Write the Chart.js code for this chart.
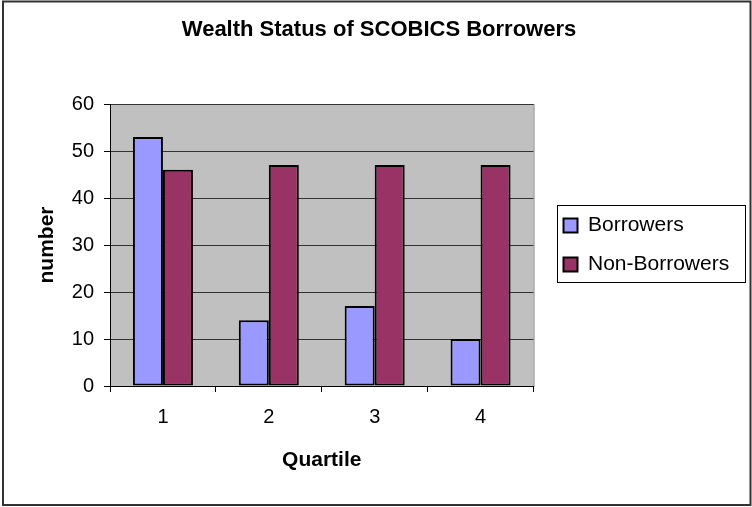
<!DOCTYPE html>
<html>
<head>
<meta charset="utf-8">
<script src="https://cdn.jsdelivr.net/npm/chart.js@4"></script>
<style>
  body { margin: 0; background: #fff; }
  canvas { display: block; }
</style>
</head>
<body>
<canvas id="chart" width="752" height="507"></canvas>
<script>
// data
const quartiles = ['1', '2', '3', '4'];
const borrowers = [53, 14, 17, 10];
const nonBorrowers = [46, 47, 47, 47];
const yTicks = [0, 10, 20, 30, 40, 50, 60];

const FONT = "'Liberation Sans', Arial, sans-serif";

// grey plot area + outer frame + legend frame
const excelLook = {
    id: 'excelLook',
    beforeDraw(chart) {
        const {ctx, chartArea: a} = chart;
        ctx.save();
        ctx.fillStyle = '#fff';
        ctx.fillRect(0, 0, chart.width, chart.height);
        ctx.fillStyle = '#C0C0C0';
        ctx.fillRect(a.left, a.top, a.right - a.left, a.bottom - a.top);
        ctx.strokeStyle = '#808080';
        ctx.lineWidth = 1;
        ctx.strokeRect(a.left + 0.5, a.top + 0.5, a.right - a.left, a.bottom - a.top);
        ctx.restore();
    },
    afterLayout(chart) {
        // push legend a bit away from the plot (and widen its clip box),
        // recentre the title on the page
        const lg = chart.legend;
        lg.left += 12;
        lg.right += 40;
        const tb = chart.titleBlock;
        tb.left += 22;
        tb.right += 22;
    },
    afterDraw(chart) {
        const {ctx} = chart;
        const lg = chart.legend;
        ctx.save();
        ctx.strokeStyle = '#000';
        ctx.lineWidth = 1;
        const top = Math.round(lg.top + (lg.height - 77) / 2 - 1.5) + 0.5;
        ctx.strokeRect(Math.round(lg.left + 11) + 0.5, top, 188, 77);
        ctx.strokeStyle = '#333';
        ctx.lineWidth = 2;
        ctx.strokeRect(3, 1.5, 747.5, 503.5);
        ctx.restore();
    }
};

new Chart(document.getElementById('chart'), {
    type: 'bar',
    data: {
        labels: quartiles,
        datasets: [{
            label: 'Borrowers',
            data: borrowers,
            backgroundColor: '#9999FF',
            borderColor: '#000',
            borderWidth: 2,
            borderSkipped: false,
            categoryPercentage: 0.567,
            barPercentage: 1
        }, {
            label: 'Non-Borrowers',
            data: nonBorrowers,
            backgroundColor: '#993366',
            borderColor: '#000',
            borderWidth: 2,
            borderSkipped: false,
            categoryPercentage: 0.567,
            barPercentage: 1
        }]
    },
    options: {
        responsive: false,
        animation: false,
        devicePixelRatio: 1,
        layout: {padding: {left: 4, top: 4, right: 42, bottom: 10}},
        plugins: {
            title: {
                display: true,
                text: 'Wealth Status of SCOBICS Borrowers',
                color: '#000',
                font: {family: FONT, size: 22, weight: 'bold'},
                padding: {top: 12.8, bottom: 60.8}
            },
            legend: {
                position: 'right',
                fullSize: false,
                labels: {
                    color: '#000',
                    font: {family: FONT, size: 21},
                    boxWidth: 14,
                    boxHeight: 14,
                    padding: 18
                }
            },
            tooltip: {enabled: false}
        },
        scales: {
            x: {
                offset: true,
                grid: {
                    display: true,
                    drawOnChartArea: false,
                    tickLength: 6,
                    color: '#000'
                },
                border: {color: '#000', width: 1},
                ticks: {
                    color: '#000',
                    font: {family: FONT, size: 20},
                    padding: 13,
                    maxRotation: 0
                },
                title: {
                    display: true,
                    text: 'Quartile',
                    color: '#000',
                    font: {family: FONT, size: 21, weight: 'bold'},
                    padding: {top: 0, bottom: 24.4}
                },
                afterFit(scale) { scale.height = 111; }
            },
            y: {
                min: 0,
                max: 60,
                afterBuildTicks(scale) { scale.ticks = yTicks.map(v => ({value: v})); },
                grid: {
                    color: '#333',
                    tickColor: '#000',
                    tickLength: 6,
                    lineWidth: 1
                },
                border: {color: '#000', width: 1},
                ticks: {
                    color: '#000',
                    font: {family: FONT, size: 20},
                    padding: 10
                },
                title: {
                    display: true,
                    text: 'number',
                    color: '#000',
                    font: {family: FONT, size: 21, weight: 'bold'},
                    padding: {top: 30.4, bottom: 0}
                },
                afterFit(scale) { scale.width = 106; }
            }
        }
    },
    plugins: [excelLook]
});
</script>
</body>
</html>
